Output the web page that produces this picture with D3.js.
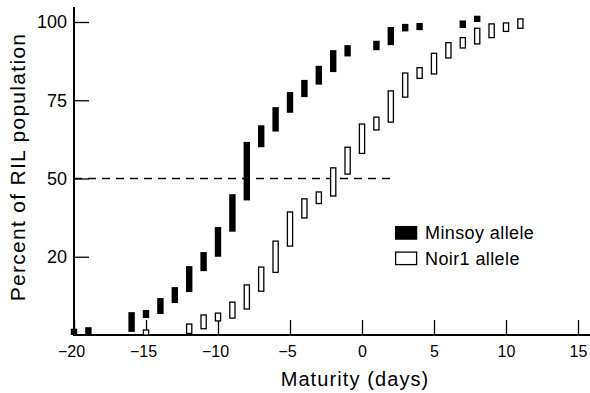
<!DOCTYPE html>
<html>
<head>
<meta charset="utf-8">
<script src="https://cdn.jsdelivr.net/npm/d3@7"></script>
<style>
  html, body { margin: 0; padding: 0; background: #fff; }
  svg { display: block; font-family: "Liberation Sans", Arial, Helvetica, sans-serif; }
  .tick line { stroke: #000; stroke-width: 1.3; }
  .tick text { fill: #000; }
</style>
</head>
<body>
<div id="chart"></div>
<script>
// maturity day of each bar and its percent range (low, high)
const minsoyDays = [-20, -19, -16, -15, -14, -13, -12, -11, -10, -9, -8, -7, -6, -5, -4, -3, -2, -1, 1, 2, 3, 4, 7, 8];
const minsoyLow  = [0, 0, 1, 5.4, 6.7, 10.2, 13.7, 20.4, 25, 33, 43, 60, 65, 71, 76, 80, 84, 89, 91, 92.6, 97, 97.4, 98.1, 100];
const minsoyHigh = [2, 2.5, 7.3, 8, 11.8, 15.3, 22, 26.5, 34.5, 45, 61.7, 67, 72.8, 77.6, 81.5, 86, 91, 92.6, 94, 98.4, 99.4, 99.7, 100.5, 102];

const noirDays = [-15, -12, -11, -10, -9, -8, -7, -6, -5, -4, -3, -2, -1, 0, 1, 2, 3, 4, 5, 6, 7, 8, 9, 10, 11];
const noirLow  = [0, 0.5, 2, 4.5, 5.4, 8.3, 14, 20, 28.4, 37.4, 42, 44.4, 51.4, 58, 65.5, 68, 76, 82, 83.4, 88.5, 91.7, 93, 95, 97, 98];
const noirHigh = [1.6, 3.5, 6.4, 7, 10.5, 16, 21.7, 30, 39.3, 43.5, 45.7, 53.4, 60, 67.4, 69.6, 78, 83.7, 85.4, 90, 93.4, 95, 98, 99.4, 99.7, 101];

const xTicks = [-20, -15, -10, -5, 0, 5, 10, 15];
const yTicks = [25, 50, 75, 100];
const yTickLabels = ['20', '50', '75', '100'];

// 50% reference line, from day -20 to about day 2.3
const refLevel = 50;
const refFrom = -20;
const refTo = 2.3;

const legendLabels = ['Minsoy allele', 'Noir1 allele'];

const width = 590;
const height = 393;

const svg = d3.select('#chart')
              .append('svg')
              .attr('width', width)
              .attr('height', height);

const x = d3.scaleLinear()
            .domain([-20, 15])
            .range([74, 578]);
const y = d3.scaleLinear()
            .domain([0, 100])
            .range([335, 22]);

const toRows = (days, lo, hi) => days.map((d, i) => ({ x: d, lo: lo[i], hi: hi[i] }));
const minsoy = toRows(minsoyDays, minsoyLow, minsoyHigh);
const noir = toRows(noirDays, noirLow, noirHigh);

// dashed 50% line
svg.append('line')
   .attr('x1', x(refFrom))
   .attr('x2', x(refTo))
   .attr('y1', y(refLevel))
   .attr('y2', y(refLevel))
   .attr('stroke', '#000')
   .attr('stroke-width', 1.4)
   .attr('stroke-dasharray', '8,6');

// X axis
const xAxis = d3.axisBottom(x)
                .tickValues(xTicks)
                .tickSizeInner(-15)
                .tickSizeOuter(0)
                .tickPadding(11)
                .tickFormat((d) => d < 0 ? '\u2212' + Math.abs(d) : String(d));
const gx = svg.append('g')
              .attr('transform', `translate(0, ${y(0)})`)
              .call(xAxis);
gx.select('.domain').remove();
gx.selectAll('.tick text')
  .style('font-size', '16px')
  .attr('dx', (d) => d < 0 ? '-3' : '0');

// Y axis
const yAxis = d3.axisLeft(y)
                .tickValues(yTicks)
                .tickSizeInner(-15)
                .tickSizeOuter(0)
                .tickPadding(7)
                .tickFormat((d, i) => yTickLabels[i]);
const gy = svg.append('g')
              .attr('transform', `translate(${x(-20)}, 0)`)
              .call(yAxis);
gy.select('.domain').remove();
gy.selectAll('.tick text')
  .style('font-size', '18px');

// axis lines
svg.append('path')
   .attr('d', `M${x(-20)},7V${y(0)}H${width}`)
   .attr('fill', 'none')
   .attr('stroke', '#000')
   .attr('stroke-width', 2);

// bars
svg.append('g')
   .selectAll('rect')
   .data(minsoy)
   .enter()
   .append('rect')
   .attr('x', (d) => x(d.x) - 3.2)
   .attr('width', 6.4)
   .attr('y', (d) => y(d.hi))
   .attr('height', (d) => y(d.lo) - y(d.hi))
   .attr('fill', '#000');

svg.append('g')
   .selectAll('rect')
   .data(noir)
   .enter()
   .append('rect')
   .attr('x', (d) => x(d.x) - 2.6)
   .attr('width', 5.2)
   .attr('y', (d) => y(d.hi))
   .attr('height', (d) => y(d.lo) - y(d.hi))
   .attr('fill', '#fff')
   .attr('stroke', '#000')
   .attr('stroke-width', 1.3);

// legend
const legend = svg.append('g')
                  .attr('transform', 'translate(395, 226)');
legend.selectAll('rect')
      .data(legendLabels)
      .enter()
      .append('rect')
      .attr('x', 0.6)
      .attr('y', (d, i) => i * 25.5 + 0.6)
      .attr('width', 21)
      .attr('height', 12.5)
      .attr('fill', (d, i) => i === 0 ? '#000' : '#fff')
      .attr('stroke', '#000')
      .attr('stroke-width', 1.3);
legend.selectAll('text')
      .data(legendLabels)
      .enter()
      .append('text')
      .attr('x', 30)
      .attr('y', (d, i) => i * 26 + 12.5)
      .style('font-size', '18px')
      .style('letter-spacing', '0.4px')
      .text((d) => d);

// axis titles
svg.append('text')
   .attr('x', 355)
   .attr('y', 386)
   .attr('text-anchor', 'middle')
   .style('font-size', '20px')
   .style('letter-spacing', '1.1px')
   .text('Maturity (days)');

svg.append('text')
   .attr('transform', 'translate(25, 167) rotate(-90)')
   .attr('text-anchor', 'middle')
   .style('font-size', '21px')
   .style('letter-spacing', '1.3px')
   .text('Percent of RIL population');
</script>
</body>
</html>
